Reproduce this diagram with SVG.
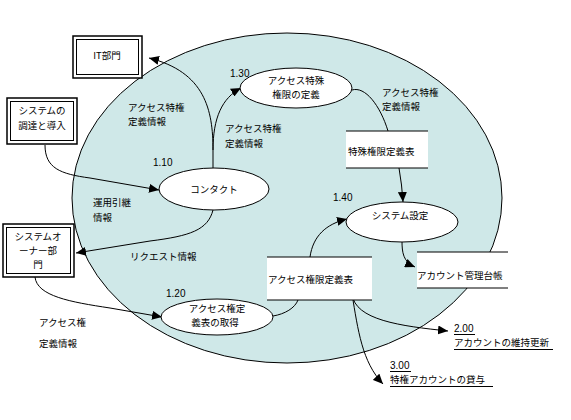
<svg xmlns="http://www.w3.org/2000/svg" width="571" height="420" viewBox="0 0 571 420">
<defs>
<marker id="arr" markerUnits="userSpaceOnUse" markerWidth="11" markerHeight="9" refX="10" refY="4.5" orient="auto">
<path d="M0,0 L10,4.5 L0,9 z" fill="#000"/>
</marker>
</defs>
<style>
text{font-family:"Noto Sans CJK JP","Noto Sans",sans-serif;font-size:9.5px;fill:#000}
.num{font-family:"Liberation Sans",Arial,sans-serif;font-size:10px}
.mid{text-anchor:middle}
.proc{fill:#fff;stroke:#000;stroke-width:1}
.store{fill:#fff;stroke:none}
.sl{stroke:#000;stroke-width:1}
.ob{fill:#fff;stroke:#000;stroke-width:1.5}
.ib{fill:none;stroke:#000;stroke-width:1}
.c{fill:none;stroke:#000;stroke-width:1}
.ca{fill:none;stroke:#000;stroke-width:1;marker-end:url(#arr)}
.ul{stroke:#000;stroke-width:1}
</style>

<g id="boundary">
<ellipse cx="287" cy="198" rx="215" ry="165" fill="#cfe8e8" stroke="#000" stroke-width="1"/>
</g>

<g id="connectors">
<path class="ca" d="M45,145 C45,168 60,174 90,178 L159,190"/>
<path class="c" d="M213,168 L213,150"/>
<path class="ca" d="M213,150 C213,110 205,72 149,58"/>
<path class="ca" d="M213,150 C213,118 222,98 241,88"/>
<path class="ca" d="M213,210 C208,230 190,236 150,241 L76,253"/>
<path class="ca" d="M35,277 C37,296 70,302 110,308 L162,317"/>
<path class="c" d="M273,316 C285,314 295,308 298,300"/>
<path class="ca" d="M310,257 C313,236 326,224 347,219"/>
<path class="c" d="M352,90 C365,86 380,105 388,131"/>
<path class="ca" d="M399,168 Q402,185 403,202"/>
<path class="ca" d="M402,241 C402,252 403,262 415,267"/>
<path class="ca" d="M352,294 C355,320 400,326 448,331"/>
<path class="ca" d="M352,294 C358,330 362,362 383,384"/>
</g>

<g id="store-tokushu">
<rect class="store" x="346" y="131" width="82" height="37"/>
<line class="sl" x1="346" y1="131" x2="428" y2="131"/>
<line class="sl" x1="346" y1="168" x2="428" y2="168"/>
<text x="348" y="155">特殊権限定義表</text>
</g>

<g id="store-access">
<rect class="store" x="267" y="257" width="105" height="43"/>
<line class="sl" x1="267" y1="257" x2="372" y2="257"/>
<line class="sl" x1="267" y1="300" x2="372" y2="300"/>
<text x="268" y="283">アクセス権限定義表</text>
</g>

<g id="store-account">
<rect class="store" x="417" y="252" width="91" height="36"/>
<line class="sl" x1="417" y1="252" x2="508" y2="252"/>
<line class="sl" x1="417" y1="288" x2="508" y2="288"/>
<text x="417" y="279">アカウント管理台帳</text>
</g>

<g id="it-dept">
<rect class="ob" x="73" y="36" width="69" height="42"/>
<rect class="ib" x="76.5" y="39.5" width="62" height="35"/>
<text class="mid" x="107" y="59">IT部門</text>
</g>

<g id="procurement">
<rect class="ob" x="7" y="98" width="70" height="46"/>
<rect class="ib" x="10.5" y="101.5" width="63" height="39"/>
<text class="mid" x="42" y="114">システムの</text>
<text class="mid" x="42" y="129">調達と導入</text>
</g>

<g id="owner">
<rect class="ob" x="3" y="224" width="71" height="53"/>
<rect class="ib" x="6.5" y="227.5" width="64" height="46"/>
<text class="mid" x="38" y="240">システムオ</text>
<text class="mid" x="38" y="254">ーナー部</text>
<text class="mid" x="38" y="268">門</text>
</g>

<g id="p110">
<ellipse class="proc" cx="214" cy="189" rx="55" ry="21"/>
<text class="mid" x="214" y="193">コンタクト</text>
<text class="num" x="153" y="166">1.10</text>
</g>

<g id="p130">
<ellipse class="proc" cx="296" cy="88" rx="56" ry="20"/>
<text class="mid" x="296" y="84">アクセス特殊</text>
<text class="mid" x="296" y="98">権限の定義</text>
<text class="num" x="230" y="77">1.30</text>
</g>

<g id="p140">
<ellipse class="proc" cx="402" cy="222" rx="56" ry="20"/>
<text class="mid" x="400" y="219">システム設定</text>
<text class="num" x="333" y="201">1.40</text>
</g>

<g id="p120">
<ellipse class="proc" cx="217" cy="317" rx="56" ry="18"/>
<text class="mid" x="217" y="312">アクセス権定</text>
<text class="mid" x="215" y="326">義表の取得</text>
<text class="num" x="166" y="297">1.20</text>
</g>

<g id="ext200">
<text class="num" x="454" y="332">2.00</text>
<line class="ul" x1="454" y1="334.5" x2="475" y2="334.5"/>
<text x="454" y="346">アカウントの維持更新</text>
<line class="ul" x1="454" y1="349.5" x2="553" y2="349.5"/>
</g>

<g id="ext300">
<text class="num" x="390" y="369">3.00</text>
<line class="ul" x1="390" y1="371.5" x2="411" y2="371.5"/>
<text x="390" y="383">特権アカウントの貸与</text>
<line class="ul" x1="390" y1="386.5" x2="493" y2="386.5"/>
</g>

<g id="labels">
<text x="128" y="111">アクセス特権</text>
<text x="128" y="125">定義情報</text>
<text x="225" y="132">アクセス特権</text>
<text x="225" y="147">定義情報</text>
<text x="382" y="96">アクセス特権</text>
<text x="382" y="110">定義情報</text>
<text x="93" y="206">運用引継</text>
<text x="93" y="221">情報</text>
<text x="130" y="260">リクエスト情報</text>
<text x="39" y="326">アクセス権</text>
<text x="39" y="347">定義情報</text>
</g>
</svg>
